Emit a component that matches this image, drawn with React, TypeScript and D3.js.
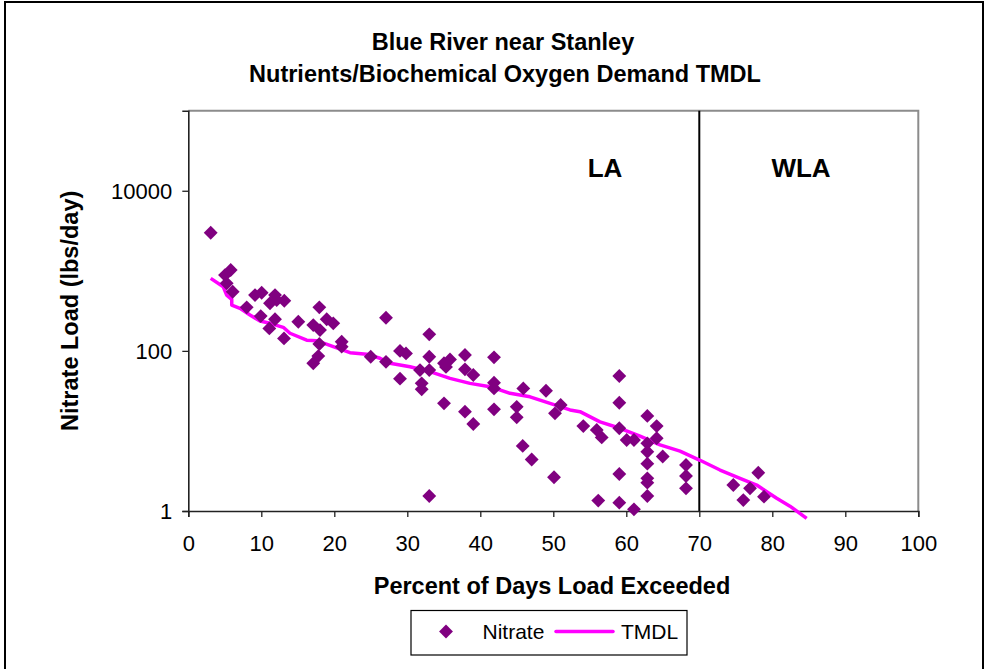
import React, { useEffect, useRef } from 'react'
import * as d3 from 'd3'

// Nitrate samples: percent of days exceeded, load (lbs/day)
const nitrateX = [
  3.07, 5.81, 5.03, 5.26, 6.08, 8.0, 9.14, 10.05, 9.92, 11.88, 11.19, 12.11, 13.15, 11.88, 11.1, 13.11,
  15.07, 17.95, 17.12, 18.04, 18.96, 19.86, 17.95, 17.81, 17.12, 21.01, 21.01, 24.99, 27.08, 27.08,
  29.0, 29.82, 29.0, 33.01, 33.01, 31.74, 33.01, 31.97, 31.97, 35.03, 35.85, 35.3, 35.03, 33.01,
  37.9, 37.9, 39.04, 37.9, 39.04, 41.88, 41.88, 41.88, 41.88, 45.89, 44.99, 44.99, 45.81, 47.04,
  49.0, 51.01, 50.23, 50.1, 54.11, 55.95, 56.63, 59.04, 59.04, 59.04, 60.05, 61.05, 59.04, 59.04,
  56.16, 61.05, 62.88, 64.16, 64.16, 62.88, 62.88, 62.88, 64.99, 62.88, 62.88, 62.88, 68.18, 68.18,
  68.18, 74.66, 76.03, 76.95, 78.08, 78.86
]
const nitrateY = [
  2990, 1023, 885, 697, 548, 350, 498, 532, 272, 498, 393, 431, 423, 248, 191, 143,
  231, 350, 210, 182, 248, 221, 122, 86, 70, 130, 113, 84.5, 259, 73,
  100, 93, 45, 161, 84.5, 57.6, 57.6, 39.3, 33.1, 70, 78, 63, 22.1, 1.54,
  88.7, 58.8, 49.9, 17.4, 12.2, 83, 40, 34, 18.6, 34, 20, 14.8, 6.5, 4.4,
  31.8, 21.1, 16.6, 2.64, 11.5, 10.3, 8.3, 48.5, 22.5, 10.8, 7.7, 7.7, 2.9, 1.27,
  1.35, 1.05, 15.4, 11.5, 8.1, 7.0, 5.5, 3.9, 4.8, 2.56, 2.26, 1.54, 3.75, 2.74,
  1.92, 2.11, 1.37, 1.92, 3.0, 1.51
]

// TMDL curve
const tmdlX = [
  3.07, 4.79, 5.26, 5.95, 5.95, 7.08, 8.45, 9.82, 11.19, 13.01, 13.93, 16.22, 17.59, 19.86, 22.15,
  24.44, 26.26, 27.63, 30.37, 33.11, 35.85, 38.59, 41.33, 44.07, 46.81, 49.55, 52.29, 53.66, 56.4,
  59.14, 61.88, 64.62, 67.36, 70.1, 72.84, 75.58, 77.86, 80.6, 82.42, 84.71
]
const tmdlY = [
  805, 632, 498, 440, 373, 340, 281, 236, 221, 197, 166, 136, 134, 113, 95,
  91, 81, 70, 63.4, 55, 45.4, 39.3, 35.7, 29.5, 26.7, 22.1, 18.3, 17.4, 13.0,
  10.8, 8.6, 6.7, 5.6, 4.3, 3.25, 2.56, 2.11, 1.44, 1.15, 0.81
]

const xTicks = [0, 10, 20, 30, 40, 50, 60, 70, 80, 90, 100]
const yTicks = [1, 100, 10000]
const dividerX = 70

const FONT = '"Liberation Sans", Arial, sans-serif'
const PURPLE = '#800080'
const PINK = '#FF00FF'

export default function App() {
  const ref = useRef<SVGSVGElement>(null)

  useEffect(() => {
    const svg = d3.select(ref.current)
    svg.selectAll('*').remove()

    const left = 188.3, right = 918.3, top = 110.7, bottom = 511
    const x = d3.scaleLinear().domain([0, 100]).range([left, right])
    const y = d3.scaleLog().domain([1, 100000]).range([bottom, top])

    // chart frame
    svg.append('rect')
      .attr('x', 5).attr('y', 2).attr('width', 978).attr('height', 680)
      .attr('fill', '#fff').attr('stroke', '#000').attr('stroke-width', 2)

    // plot border (top/right grey)
    svg.append('path')
      .attr('d', `M${left},${top}H${right}V${bottom}`)
      .attr('fill', 'none').attr('stroke', '#8c8c8c').attr('stroke-width', 2)

    // LA / WLA divider
    svg.append('line')
      .attr('x1', x(dividerX)).attr('x2', x(dividerX))
      .attr('y1', top).attr('y2', bottom)
      .attr('stroke', '#000').attr('stroke-width', 2)

    // axes
    const xAxis = svg.append('g')
      .attr('transform', `translate(0,${bottom})`)
      .call(d3.axisBottom(x).tickValues(xTicks).tickSize(6).tickFormat(d3.format('d')))
    const yAxis = svg.append('g')
      .attr('transform', `translate(${left},0)`)
      .call(d3.axisLeft(y).tickValues(yTicks).tickSize(6).tickPadding(10).tickFormat(d3.format('d')))
    ;[xAxis, yAxis].forEach(g => {
      g.select('.domain').attr('stroke', '#222').attr('stroke-width', 1.6)
      g.selectAll('.tick line').attr('stroke', '#222').attr('stroke-width', 1.3)
      g.selectAll('.tick text')
        .attr('font-family', FONT).attr('font-size', 22).attr('fill', '#000')
    })
    xAxis.selectAll('.tick text').attr('dy', '0').attr('y', 40)
    yAxis.selectAll('.tick text').attr('dy', '0.36em')

    // TMDL line (Excel lets it run a little past the axis)
    const line = d3.line<number>()
      .x((d, i) => x(tmdlX[i]))
      .y(d => y(d))
    svg.append('path')
      .datum(tmdlY)
      .attr('d', line)
      .attr('fill', 'none')
      .attr('stroke', PINK)
      .attr('stroke-width', 3.5)
      .attr('stroke-linejoin', 'round')

    // nitrate diamonds
    const diamond = d3.symbol().type(d3.symbolSquare).size(96)
    svg.append('g').selectAll('path')
      .data(nitrateY)
      .join('path')
      .attr('d', diamond)
      .attr('transform', (d, i) => `translate(${x(nitrateX[i])},${y(d)}) rotate(45)`)
      .attr('fill', PURPLE)

    // LA / WLA labels
    svg.append('text')
      .attr('x', 605).attr('y', 177).attr('text-anchor', 'middle')
      .attr('font-family', FONT).attr('font-weight', 'bold').attr('font-size', 26)
      .text('LA')
    svg.append('text')
      .attr('x', 801).attr('y', 177).attr('text-anchor', 'middle')
      .attr('font-family', FONT).attr('font-weight', 'bold').attr('font-size', 26)
      .text('WLA')

    // titles
    const title = svg.append('text')
      .attr('text-anchor', 'middle')
      .attr('font-family', FONT).attr('font-weight', 'bold').attr('font-size', 23.5)
    title.append('tspan').attr('x', 503).attr('y', 50).text('Blue River near Stanley')
    title.append('tspan').attr('x', 505).attr('y', 82).text('Nutrients/Biochemical Oxygen Demand TMDL')

    svg.append('text')
      .attr('x', 552).attr('y', 594).attr('text-anchor', 'middle')
      .attr('font-family', FONT).attr('font-weight', 'bold').attr('font-size', 23.5)
      .text('Percent of Days Load Exceeded')

    svg.append('text')
      .attr('transform', `translate(78,${(top + bottom) / 2}) rotate(-90)`)
      .attr('text-anchor', 'middle')
      .attr('font-family', FONT).attr('font-weight', 'bold').attr('font-size', 23.5)
      .text('Nitrate Load (lbs/day)')

    // legend
    const lg = svg.append('g')
    lg.append('rect')
      .attr('x', 411).attr('y', 610.5).attr('width', 276).attr('height', 44.5)
      .attr('fill', '#fff').attr('stroke', '#000').attr('stroke-width', 1.2)
    lg.append('path')
      .attr('d', diamond)
      .attr('transform', 'translate(446,631.5) rotate(45)')
      .attr('fill', PURPLE)
    lg.append('text')
      .attr('x', 482.5).attr('y', 639)
      .attr('font-family', FONT).attr('font-size', 21)
      .text('Nitrate')
    lg.append('line')
      .attr('x1', 556).attr('x2', 613).attr('y1', 631.5).attr('y2', 631.5)
      .attr('stroke', PINK).attr('stroke-width', 3.5).attr('stroke-linecap', 'round')
    lg.append('text')
      .attr('x', 621).attr('y', 639)
      .attr('font-family', FONT).attr('font-size', 21)
      .text('TMDL')
  }, [])

  return (
    <svg
      ref={ref}
      width={985}
      height={669}
      style={{ position: 'absolute', left: 0, top: 0, background: '#fff' }}
    />
  )
}
